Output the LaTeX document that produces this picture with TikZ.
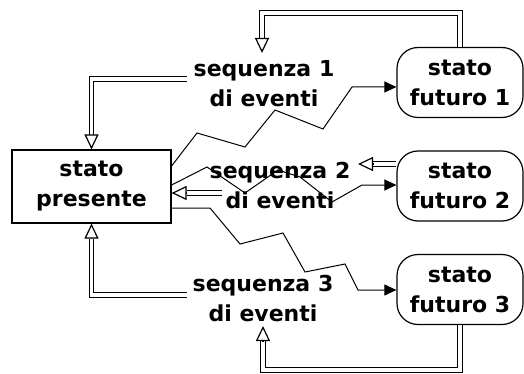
\documentclass[tikz,border=0pt]{standalone}
\usepackage{fontspec}
\newfontfamily\dfont{DejaVu Sans}
\usetikzlibrary{arrows.meta}
\begin{document}
\begin{tikzpicture}[x=1pt,y=-1pt,
  txt/.style={font=\dfont\bfseries\fontsize{22}{30}\selectfont, align=center, inner sep=0pt},
  presbox/.style={txt, draw, line width=1.2pt, minimum width=159pt, minimum height=73pt},
  futbox/.style={txt, draw, line width=1.2pt, rounded corners=21pt, minimum width=126pt, minimum height=70pt},
  dbl/.style={line width=1.2pt, double=white, double distance=3.2pt, line join=miter},
  hollowtip/.style={line width=1.2pt, -{Triangle[length=15pt,width=14pt,fill=white]}},
  zig/.style={line width=1pt, -{Triangle[length=12pt,width=11pt]}},
]
\useasboundingbox (0,0) rectangle (524,374);

% nodes
\node[presbox] (p) at (91.5,186.5) {stato\\presente};
\node[futbox] (f1) at (460,82.5) {stato\\futuro 1};
\node[futbox] (f2) at (460,186) {stato\\futuro 2};
\node[futbox] (f3) at (460,289.5) {stato\\futuro 3};
\node[txt] (s1) at (264,84) {sequenza 1\\di eventi};
\node[txt] (s2) at (280,185) {sequenza 2\\di eventi};
\node[txt] (s3) at (263,298) {sequenza 3\\di eventi};

% coordinates
\coordinate (a1) at (262,13);
\coordinate (a2) at (262,38);
\coordinate (a3) at (262,53);
\coordinate (b0) at (187,79);
\coordinate (b1) at (91.5,79);
\coordinate (b2) at (91.5,135);
\coordinate (c1) at (91.5,239);
\coordinate (c2) at (91.5,295);
\coordinate (c3) at (187,295);
\coordinate (d1) at (263,370);
\coordinate (d2) at (263,341);
\coordinate (d3) at (263,326);
\coordinate (e1) at (373,164);
\coordinate (e2) at (358,164);
\coordinate (g0) at (222,193);
\coordinate (g1) at (187,193);

% feedback double arrows
\draw[dbl] (f1.north) |- (a1) -- (a2);
\draw[hollowtip] (a2) -- (a3);
\draw[dbl] (b0) -- (b1) -- (b2);
\draw[hollowtip] (b2) -- (p.north);
\draw[dbl] (c3) -- (c2) -- (c1);
\draw[hollowtip] (c1) -- (p.south);
\draw[dbl] (f3.south) |- (d1) -- (d2);
\draw[hollowtip] (d2) -- (d3);
\draw[dbl] (f2.west |- e1) -- (e1);
\draw[hollowtip] (e1) -- (e2);
\draw[dbl] (g0) -- (g1);
\draw[hollowtip] (g1) -- (p.east |- g1);

% zigzag event sequences
\draw[zig] (p.east |- 0,166) -- (197,133) -- (245,147) -- (275,110) -- (323,129) -- (352,87) -- (f1.west |- 0,87);
\draw[zig] (p.east |- 0,185) -- (207,167) -- (245,193) -- (278,170) -- (300,177) -- (332,202) -- (362,185) -- (f2.west |- 0,185);
\draw[zig] (p.east |- 0,208) -- (210,208) -- (240,244) -- (283,233) -- (305,272) -- (345,264) -- (358,290) -- (f3.west |- 0,290);
\end{tikzpicture}
\end{document}
